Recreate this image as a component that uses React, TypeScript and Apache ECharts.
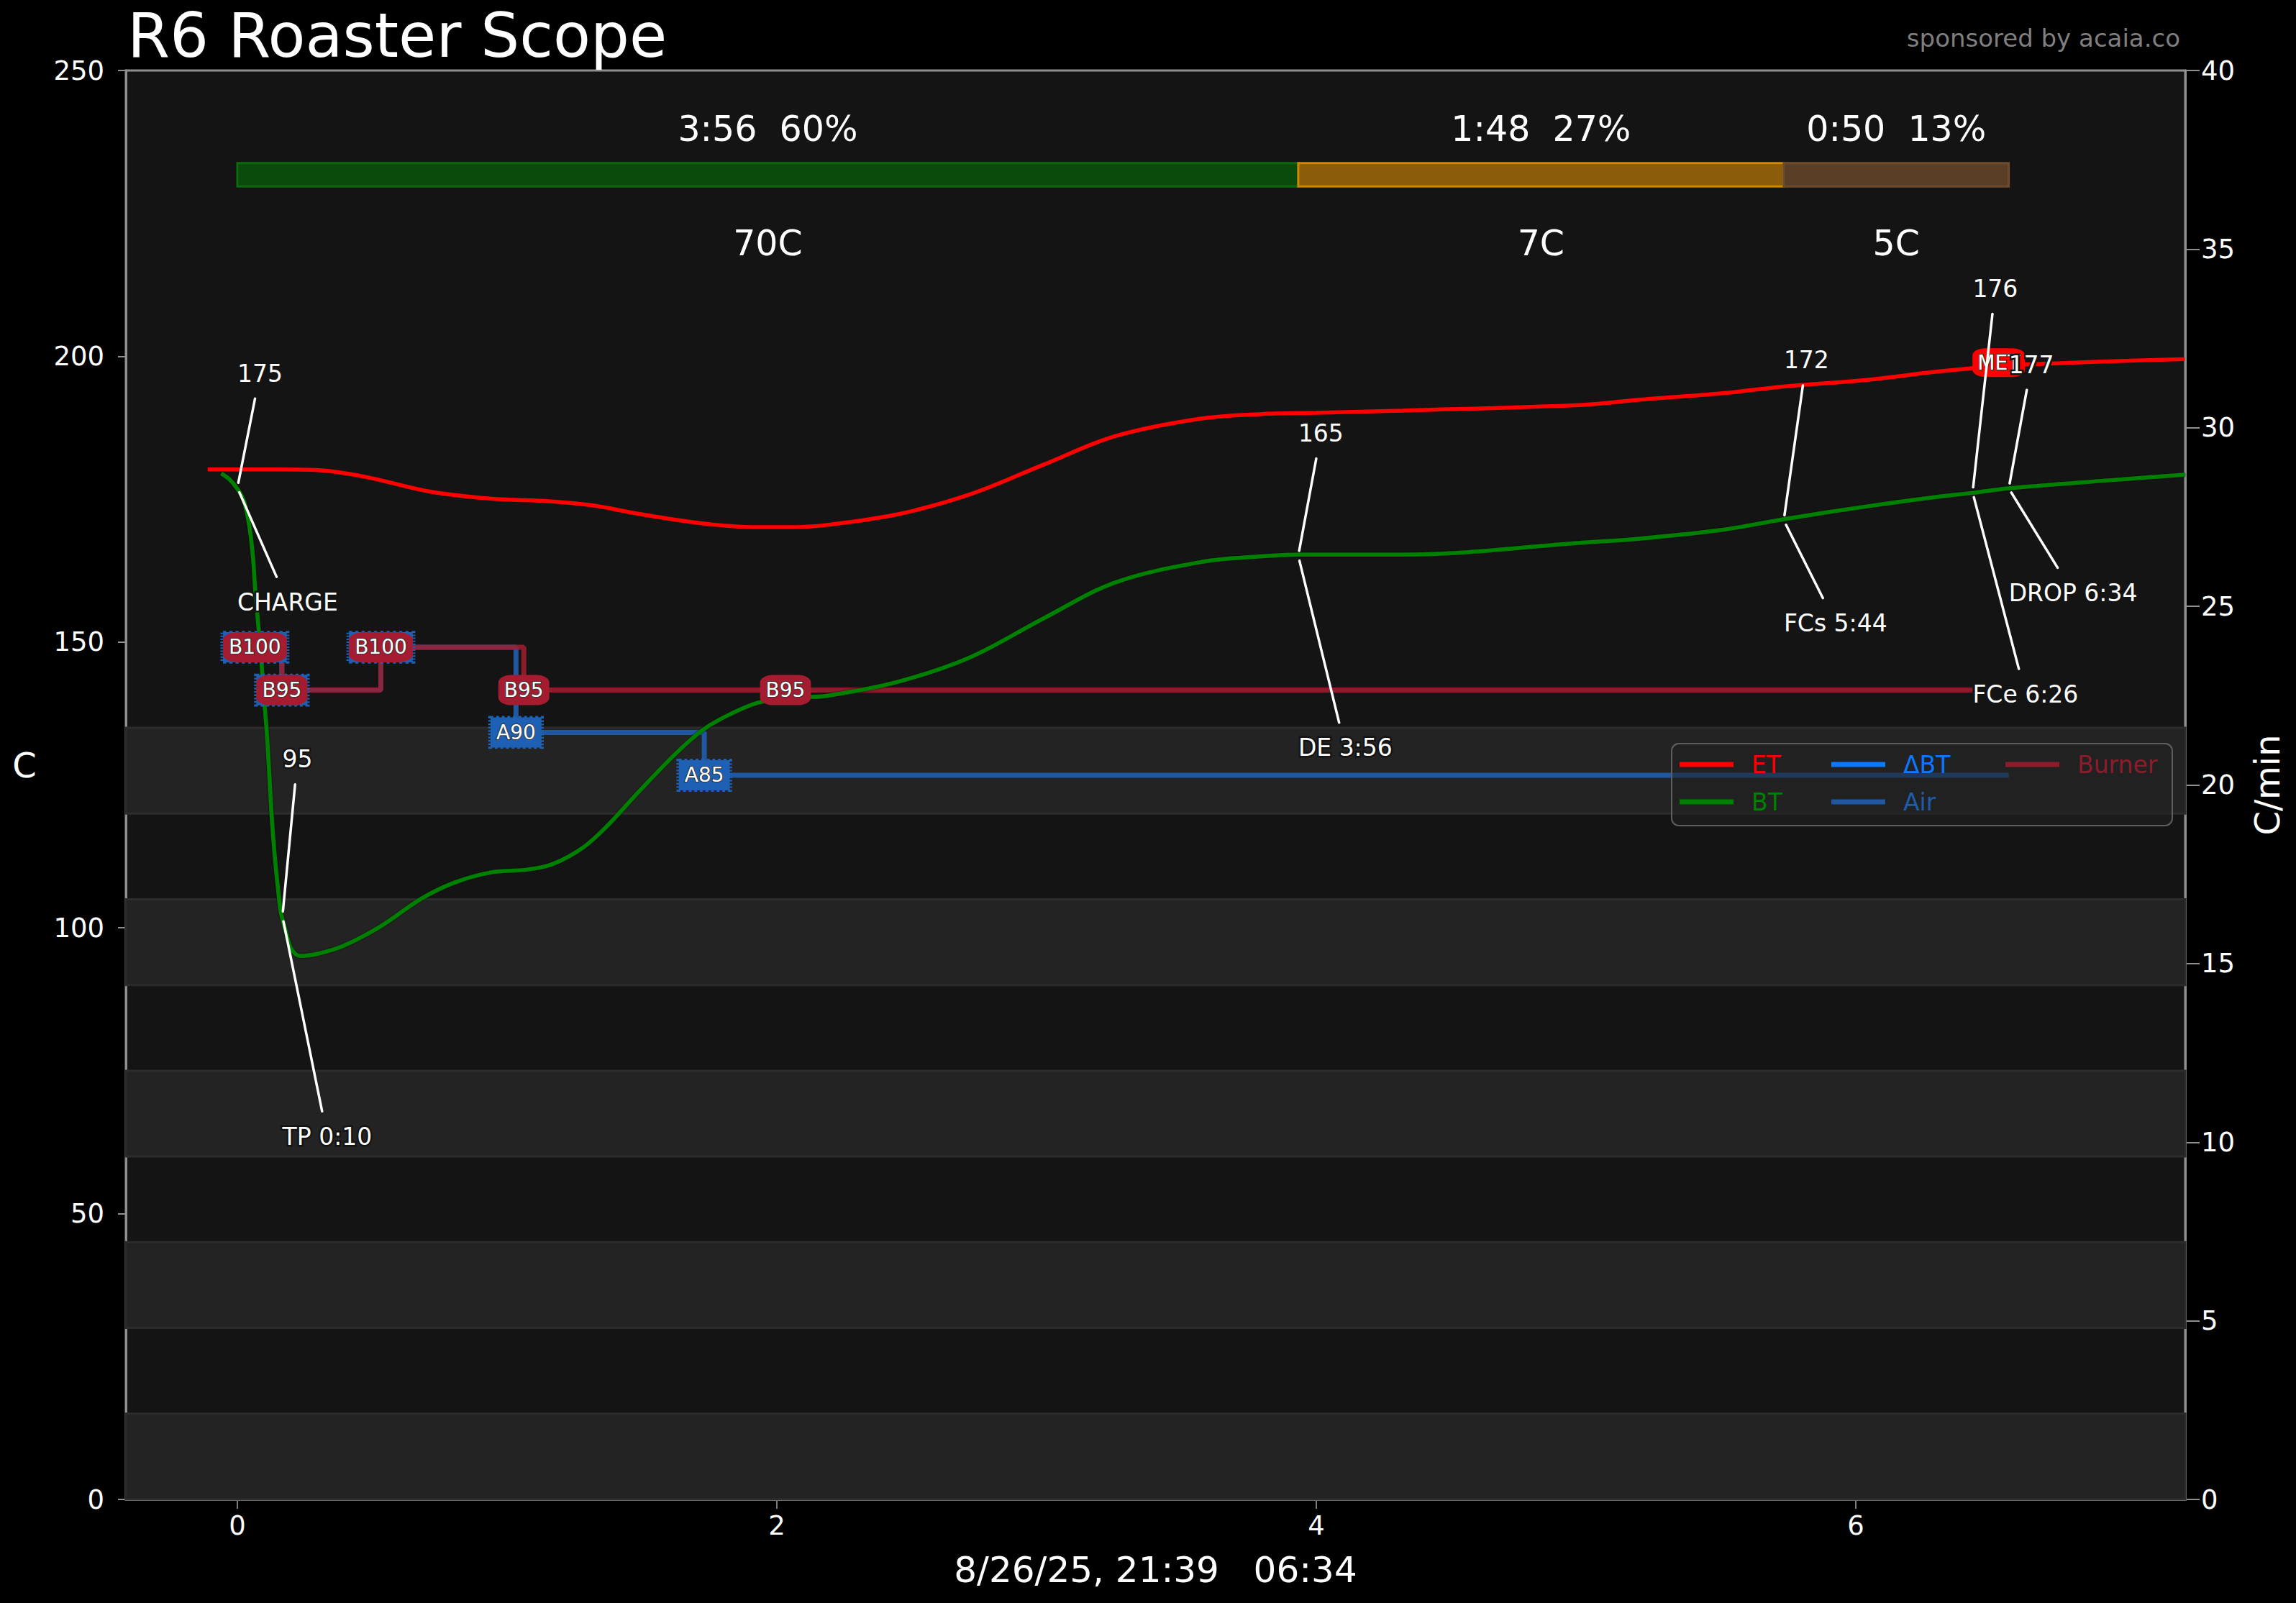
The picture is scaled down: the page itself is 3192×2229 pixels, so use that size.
import React, { useEffect, useRef } from 'react';
import * as echarts from 'echarts';

const FONT = '"DejaVu Sans", "Liberation Sans", sans-serif';

// ---- axes ----
const X_MIN = -0.4133;
const X_MAX = 7.2213;
const xTickValues = [0, 2, 4, 6];
const Y_MIN = 0, Y_MAX = 250, Y_STEP = 50;
const Y2_MIN = 0, Y2_MAX = 40, Y2_STEP = 5;

// ---- ET / BT curves (minutes, °C) ----
const etTime = [-0.11, 0.0, 0.15, 0.29, 0.475, 0.705, 0.935, 1.164, 1.317, 1.469, 1.624, 1.776, 1.93, 2.05, 2.187, 2.453, 2.72, 2.987, 3.253, 3.573, 3.8, 4.0, 4.32, 4.99, 5.2, 5.5, 5.733, 6.05, 6.3, 6.53, 6.76, 7.0, 7.22];
const etTemp = [180.2, 180.2, 180.2, 180.1, 178.9, 176.4, 175.1, 174.6, 173.9, 172.6, 171.4, 170.5, 170.1, 170.1, 170.5, 172.4, 175.9, 181.0, 186.0, 189.1, 189.9, 190.1, 190.5, 191.5, 192.4, 193.5, 194.7, 195.9, 197.3, 198.3, 198.8, 199.2, 199.5];

const btTime = [-0.06, -0.03, 0.0, 0.024, 0.039, 0.05, 0.059, 0.066, 0.077, 0.088, 0.097, 0.108, 0.117, 0.127, 0.138, 0.151, 0.161, 0.179, 0.199, 0.233, 0.301, 0.396, 0.532, 0.682, 0.804, 0.94, 1.076, 1.171, 1.28, 1.362, 1.484, 1.621, 1.716, 1.79, 1.93, 2.08, 2.187, 2.453, 2.72, 2.987, 3.253, 3.573, 3.8, 3.933, 4.32, 4.99, 5.2, 5.5, 5.733, 6.05, 6.3, 6.433, 6.567, 6.94, 7.22];
const btTemp = [179.5, 178.5, 176.8, 174.7, 171.7, 168.4, 164.2, 159.2, 153.3, 147.4, 141.2, 134.9, 128.1, 119.7, 112.9, 106.7, 102.8, 99.5, 96.4, 95.1, 95.5, 96.9, 100.3, 105.1, 107.9, 109.7, 110.2, 111.2, 114.0, 117.4, 123.6, 130.3, 134.3, 136.5, 139.4, 140.3, 140.6, 143.1, 147.4, 154.1, 160.4, 164.0, 165.0, 165.3, 165.3, 167.4, 168.1, 169.6, 171.5, 173.8, 175.4, 176.1, 176.9, 178.3, 179.3];

// ---- event levels (event value -> plotted level on the temperature axis) ----
const levelValues = [85, 90, 95, 100];
const levelTemps = [126.7, 134.2, 141.6, 149.1];

const burnerTimes = [0.065, 0.165, 0.532, 1.062, 2.032];
const burnerValues = [100, 95, 100, 95, 95];
const burnerEnd = 6.433;

const airTimes = [0.065, 0.165, 0.532, 1.033, 1.731];
const airValues = [100, 95, 100, 90, 85];
const airEnd = 6.567;

const metTime = 6.53;
const metTemp = 198.9;

// ---- background bands (°C) ----
const bandLow = [0, 30, 60, 90, 120];
const bandHigh = [15, 45, 75, 105, 135];

// ---- phases ----
const phaseStart = [0, 3.933, 5.733];
const phaseEnd = [3.933, 5.733, 6.567];
const phaseTimeLabels = ['3:56', '1:48', '0:50'];
const phasePctLabels = ['60%', '27%', '13%'];
const phaseRiseLabels = ['70C', '7C', '5C'];
const phaseFill = ['#0a4a0a', '#8b5d0a', '#5a3e26'];
const phaseStroke = ['#0d6a0d', '#cd8700', '#6e4b2d'];
const PHASE_BAR_LOW = 229.7;
const PHASE_BAR_HIGH = 233.8;
const PHASE_TEXT_Y = 239.8;
const PHASE_RISE_Y = 219.8;

// ---- annotations ----
const annTime = [0, 0.167, 3.933, 5.733, 6.433, 6.567];
const annTemp = [177.0, 102.0, 165.1, 171.3, 176.2, 176.9];
const annUpperText = ['175', '95', '165', '172', '176', '177'];
const annUpperY = [197.0, 129.5, 186.5, 199.3, 211.8, 198.5];
const annLowerText = ['CHARGE', 'TP 0:10', 'DE 3:56', 'FCs 5:44', 'FCe 6:26', 'DROP 6:34'];
const annLowerY = [157.0, 63.5, 131.5, 153.3, 140.9, 158.6];

const levelOf = (v: number) => levelTemps[levelValues.indexOf(v)];

let measureCtx: CanvasRenderingContext2D | null = null;
function measure(text: string, size: number): number {
  if (!measureCtx) {
    const c = document.createElement('canvas');
    measureCtx = c.getContext('2d');
  }
  if (!measureCtx) return text.length * size * 0.6;
  measureCtx.font = `${size}px ${FONT}`;
  return measureCtx.measureText(text).width;
}

function stepData(times: number[], values: number[], end: number) {
  const d = times.map((t, i) => [t, levelOf(values[i])]);
  d.push([end, levelOf(values[values.length - 1])]);
  return d;
}

export default function App() {
  const ref = useRef<HTMLDivElement>(null);

  useEffect(() => {
    if (!ref.current) return;
    const chart = echarts.init(ref.current, null, { renderer: 'svg' });

    const etData = etTime.map((t, i) => [t, etTemp[i]]);
    const btData = btTime.map((t, i) => [t, btTemp[i]]);

    const legendCommon = {
      orient: 'vertical',
      top: 1043,
      padding: 0,
      icon: 'rect',
      itemWidth: 75,
      itemHeight: 7,
      itemGap: 12,
      selectedMode: false,
      z: 10,
      textStyle: { fontSize: 33, fontFamily: FONT, lineHeight: 40, padding: [0, 0, 0, 20] },
    };

    const axisLabelStyle = { color: '#ffffff', fontSize: 37, fontFamily: FONT };

    const option: any = {
      animation: false,
      backgroundColor: '#000000',
      title: [
        {
          text: 'R6 Roaster Scope',
          left: 177,
          top: 7,
          padding: 0,
          textStyle: { color: '#ffffff', fontSize: 85, fontWeight: 'normal', fontFamily: FONT },
        },
        {
          text: 'sponsored by acaia.co',
          right: 161,
          top: 36,
          padding: 0,
          textStyle: { color: '#7f7f7f', fontSize: 34, fontWeight: 'normal', fontFamily: FONT },
        },
      ],
      grid: {
        left: 175,
        right: 154,
        top: 98,
        bottom: 144,
        show: true,
        backgroundColor: '#141414',
        borderColor: '#8f8f8f',
        borderWidth: 3,
        containLabel: false,
      },
      legend: [
        {
          ...legendCommon,
          left: 2335,
          data: [
            { name: 'ET', textStyle: { color: '#ff0000' } },
            { name: 'BT', textStyle: { color: '#008000' } },
          ],
        },
        {
          ...legendCommon,
          left: 2546,
          data: [
            { name: 'ΔBT', textStyle: { color: '#0a78ff' } },
            { name: 'Air', textStyle: { color: '#1f5ca8' } },
          ],
        },
        {
          ...legendCommon,
          left: 2788,
          data: [{ name: 'Burner', textStyle: { color: '#8b1c2c' } }],
        },
      ],
      graphic: [
        {
          type: 'rect',
          z: 7,
          silent: true,
          shape: { x: 2324, y: 1034, width: 696, height: 114, r: 10 },
          style: { fill: 'rgba(32,32,32,0.55)', stroke: '#5e5e5e', lineWidth: 2 },
        },
      ],
      xAxis: {
        type: 'value',
        min: X_MIN,
        max: X_MAX,
        minInterval: 2,
        maxInterval: 2,
        name: '8/26/25, 21:39\u00a0\u00a0\u00a006:34',
        nameLocation: 'middle',
        nameGap: 98,
        nameTextStyle: { color: '#ffffff', fontSize: 50, fontFamily: FONT, align: 'center', verticalAlign: 'middle' },
        axisLine: { show: true, onZero: false, lineStyle: { color: '#a8a8a8', width: 3 } },
        axisTick: { show: true, length: 13, lineStyle: { color: '#a8a8a8', width: 1.5 }, customValues: xTickValues },
        axisLabel: {
          ...axisLabelStyle,
          margin: 18,
          customValues: xTickValues,
          formatter: (v: number) => (Math.abs(v - Math.round(v)) < 1e-6 ? String(Math.round(v)) : ''),
        },
        splitLine: { show: false },
      },
      yAxis: [
        {
          type: 'value',
          position: 'left',
          min: Y_MIN,
          max: Y_MAX,
          interval: Y_STEP,
          name: 'C',
          nameLocation: 'middle',
          nameRotate: 0,
          nameGap: 141,
          nameTextStyle: {
            color: '#ffffff', fontSize: 48, fontFamily: FONT, align: 'center', verticalAlign: 'bottom',
            lineHeight: 56,
          },
          axisLine: { show: true, onZero: false, lineStyle: { color: '#8f8f8f', width: 3 } },
          axisTick: { show: true, length: 11, lineStyle: { color: '#8f8f8f', width: 2 } },
          axisLabel: { ...axisLabelStyle, margin: 30 },
          splitLine: { show: false },
        },
        {
          type: 'value',
          position: 'right',
          min: Y2_MIN,
          max: Y2_MAX,
          interval: Y2_STEP,
          name: 'C/min',
          nameLocation: 'middle',
          nameRotate: 90,
          nameGap: 114,
          nameTextStyle: { color: '#ffffff', fontSize: 48, fontFamily: FONT, align: 'center', verticalAlign: 'middle' },
          axisLine: { show: true, onZero: false, lineStyle: { color: '#8f8f8f', width: 3 } },
          axisTick: { show: true, length: 20, lineStyle: { color: '#8f8f8f', width: 2 } },
          axisLabel: { ...axisLabelStyle, margin: 22 },
          splitLine: { show: false },
        },
      ],
      series: [
        {
          type: 'custom',
          name: 'bands',
          z: 1,
          silent: true,
          data: bandLow.map((lo, i) => [0, lo, bandHigh[i]]),
          renderItem: (params: any, api: any) => {
            const cs = params.coordSys;
            const yLo = api.coord([0, api.value(1)])[1];
            const yHi = api.coord([0, api.value(2)])[1];
            return {
              type: 'rect',
              shape: { x: cs.x, y: yHi, width: cs.width, height: yLo - yHi },
              style: { fill: '#232323', stroke: '#2c2c2c', lineWidth: 3 },
            };
          },
        },
        {
          type: 'custom',
          name: 'phases',
          z: 3,
          silent: true,
          data: phaseStart.map((s, i) => [s, phaseEnd[i], i]),
          renderItem: (params: any, api: any) => {
            const i = api.value(2);
            const p0 = api.coord([phaseStart[i], PHASE_BAR_HIGH]);
            const p1 = api.coord([phaseEnd[i], PHASE_BAR_LOW]);
            const mid = (phaseStart[i] + phaseEnd[i]) / 2;
            const t = api.coord([mid, PHASE_TEXT_Y]);
            const r = api.coord([mid, PHASE_RISE_Y]);
            return {
              type: 'group',
              children: [
                {
                  type: 'rect',
                  shape: { x: p0[0], y: p0[1], width: p1[0] - p0[0], height: p1[1] - p0[1] },
                  style: { fill: phaseFill[i], stroke: phaseStroke[i], lineWidth: 3 },
                },
                {
                  type: 'text',
                  style: {
                    text: `${phaseTimeLabels[i]}\u00a0\u00a0${phasePctLabels[i]}`,
                    x: t[0], y: t[1], fill: '#ffffff', fontSize: 49, fontFamily: FONT,
                    align: 'center', verticalAlign: 'middle',
                  },
                },
                {
                  type: 'text',
                  style: {
                    text: phaseRiseLabels[i],
                    x: r[0], y: r[1], fill: '#ffffff', fontSize: 49, fontFamily: FONT,
                    align: 'center', verticalAlign: 'middle',
                  },
                },
              ],
            };
          },
        },
        {
          type: 'line',
          name: 'Air',
          z: 4,
          silent: true,
          step: 'end',
          symbol: 'none',
          showSymbol: false,
          data: stepData(airTimes, airValues, airEnd),
          lineStyle: { color: '#1f57a1', width: 7 },
          itemStyle: { color: '#1f57a1' },
        },
        {
          type: 'line',
          name: 'Burner',
          z: 5,
          silent: true,
          step: 'end',
          symbol: 'none',
          showSymbol: false,
          data: stepData(burnerTimes, burnerValues, burnerEnd),
          lineStyle: { color: '#9f1d30', width: 7, opacity: 0.85 },
          itemStyle: { color: '#8b1c2c' },
        },
        {
          type: 'line',
          name: 'ET',
          z: 6,
          silent: true,
          symbol: 'none',
          showSymbol: false,
          smooth: 0.35,
          data: etData,
          lineStyle: { color: '#ff0000', width: 5.5 },
          itemStyle: { color: '#ff0000' },
        },
        {
          type: 'line',
          name: 'BT',
          z: 6,
          silent: true,
          symbol: 'none',
          showSymbol: false,
          smooth: 0.35,
          data: btData,
          lineStyle: { color: '#008000', width: 5.5, shadowColor: 'rgba(0,0,0,0.9)', shadowBlur: 2 },
          itemStyle: { color: '#008000' },
        },
        {
          type: 'line',
          name: 'ΔBT',
          yAxisIndex: 1,
          silent: true,
          symbol: 'none',
          data: [],
          lineStyle: { color: '#0a78ff', width: 4 },
          itemStyle: { color: '#0a78ff' },
        },
        {
          type: 'scatter',
          name: 'Air events',
          z: 7,
          silent: true,
          symbol: 'rect',
          data: airTimes.map((t, i) => [t, levelOf(airValues[i])]),
          symbolSize: (_v: any, p: any) => [measure('A' + airValues[p.dataIndex], 28) + 16, 42],
          itemStyle: { color: '#1d60b4', borderColor: '#1d60b4', borderWidth: 5, borderType: [3, 3], opacity: 1 },
          label: {
            show: true,
            position: 'inside',
            formatter: (p: any) => 'A' + airValues[p.dataIndex],
            color: '#ffffff',
            fontSize: 28,
            fontFamily: FONT,
            textBorderColor: '#333333',
            textBorderWidth: 2,
          },
        },
        {
          type: 'scatter',
          name: 'Burner events',
          z: 8,
          silent: true,
          symbol: 'roundRect',
          data: burnerTimes.map((t, i) => [t, levelOf(burnerValues[i])]),
          symbolSize: (_v: any, p: any) => [measure('B' + burnerValues[p.dataIndex], 28) + 16, 42],
          itemStyle: { color: '#a51c30', opacity: 1 },
          label: {
            show: true,
            position: 'inside',
            formatter: (p: any) => 'B' + burnerValues[p.dataIndex],
            color: '#ffffff',
            fontSize: 28,
            fontFamily: FONT,
            textBorderColor: '#333333',
            textBorderWidth: 2,
          },
        },
        {
          type: 'scatter',
          name: 'MET marker',
          z: 8,
          silent: true,
          symbol: 'roundRect',
          symbolSize: [73, 40],
          data: [[metTime, metTemp]],
          itemStyle: { color: '#ff0000', opacity: 1 },
          label: {
            show: true,
            position: 'inside',
            formatter: 'MET',
            color: '#ffffff',
            fontSize: 28,
            fontFamily: FONT,
            textBorderColor: '#333333',
            textBorderWidth: 2,
          },
        },
        {
          type: 'custom',
          name: 'annotations',
          z: 9,
          silent: true,
          data: annTime.map((t, i) => [t, annTemp[i], i]),
          renderItem: (params: any, api: any) => {
            const i = api.value(2);
            const a = api.coord([annTime[i], annTemp[i]]);
            const children: any[] = [];
            const items: [string, number][] = [
              [annUpperText[i], annUpperY[i]],
              [annLowerText[i], annLowerY[i]],
            ];
            for (const [txt, ty] of items) {
              const cy = api.coord([annTime[i], ty])[1];
              const w = measure(txt, 33);
              const cx = a[0] + w / 2;
              const dx = a[0] - cx;
              const dy = a[1] - cy;
              const L = Math.hypot(dx, dy);
              const tx = Math.abs(dx) > 1e-6 ? (w / 2 + 14) / Math.abs(dx) : Infinity;
              const tyy = Math.abs(dy) > 1e-6 ? 35 / Math.abs(dy) : Infinity;
              const tb = Math.min(tx, tyy);
              const sx = cx + dx * tb;
              const sy = cy + dy * tb;
              const ex = a[0] - (dx / L) * 7;
              const ey = a[1] - (dy / L) * 7;
              children.push({
                type: 'line',
                shape: { x1: sx, y1: sy, x2: ex, y2: ey },
                style: { stroke: '#ffffff', lineWidth: 3.5, lineCap: 'round' },
              });
              children.push({
                type: 'text',
                style: {
                  text: txt,
                  x: a[0],
                  y: cy,
                  fill: '#ffffff',
                  fontSize: 33,
                  fontFamily: FONT,
                  align: 'left',
                  verticalAlign: 'middle',
                  stroke: '#141414',
                  lineWidth: 5,
                },
              });
            }
            return { type: 'group', children };
          },
        },
      ],
    };

    chart.setOption(option);
    return () => {
      chart.dispose();
    };
  }, []);

  return (
    <div
      ref={ref}
      style={{ position: 'fixed', left: 0, top: 0, width: 3192, height: 2229, background: '#000000' }}
    />
  );
}
